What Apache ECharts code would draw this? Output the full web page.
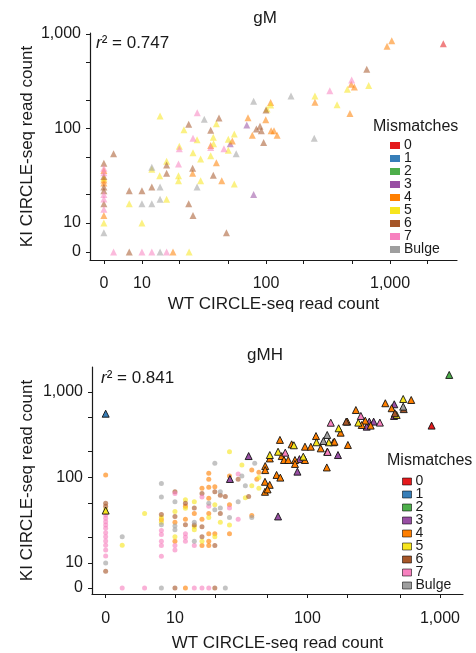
<!DOCTYPE html>
<html>
<head>
<meta charset="utf-8">
<script src="https://cdn.jsdelivr.net/npm/echarts@6/dist/echarts.min.js"></script>
<style>
  html, body { margin: 0; background: #fff; }
  #chart { width: 476px; height: 653px; }
</style>
</head>
<body>
<div id="chart"></div>
<script>
// mismatch categories (Set1-like palette)
const categories = ['0', '1', '2', '3', '4', '5', '6', '7', 'Bulge'];
const catColors = ['#e41a1c', '#377eb8', '#4daf4a', '#984ea3', '#ff7f00', '#f7e51e', '#a65628', '#f781bf', '#9e9e9e'];

// axis ticks (read counts); 0 is drawn at a fixed offset on the log axis
const majorTicks = [0, 10, 100, 1000];
const minorTicks = [20, 50, 200, 500, 2000];

// ---- gM panel: [WT read count, KI read count]
const gM0 = [[2690, 789]];
const gM1 = [];
const gM2 = [];
const gM3 = [[51.5, 69], [70, 109], [79.5, 20]];
const gM4 = [[35.8, 66], [39.8, 43.5], [53.5, 74], [71.6, 130], [109, 189], [99.5, 124], [77.6, 85],
  [110, 95], [116, 95], [123, 85], [25.6, 33.6], [44, 28], [248, 190], [1033, 849], [946, 741],
  [487, 294], [516, 275], [475, 144], [0, 36], [0, 28.5], [0, 26.5], [0, 12], [17.8, 0]];
const gM5 = [[14, 136], [21.8, 97], [39.8, 112], [27.8, 76], [37.6, 81], [37.8, 69], [20, 65],
  [25.8, 55.5], [29.7, 47.5], [35.8, 51.5], [49.7, 59], [49.7, 77], [55.5, 87.5], [109, 177],
  [102, 161], [15.8, 45], [12, 37], [55.5, 25.8], [29.7, 28], [19.7, 31.7], [19.7, 28], [13.9, 31.7],
  [7.9, 16], [15.8, 17.8], [10, 10], [248, 221], [453, 260], [673, 286], [374, 179],
  [0, 10], [0, 30], [24, 0]];
const gM6 = [[23.8, 111], [41.8, 129], [35.8, 96], [100, 157], [83.6, 99], [89.5, 106], [91.7, 95],
  [95.7, 71], [48, 7.9], [15.8, 41], [25.6, 38], [37.6, 32], [15.8, 33.6], [12, 24], [10, 22],
  [7.9, 22], [23.8, 16], [25.8, 12], [5.9, 54], [649, 423],
  [0, 43], [0, 31], [0, 24], [0, 22], [0, 16], [7.9, 0]];
const gM7 = [[27.9, 147], [25.8, 79], [35.8, 63], [20, 61], [45.8, 61], [19.7, 42], [327, 251],
  [491, 326], [0, 38], [0, 34], [0, 20], [0, 18], [0, 14], [5.9, 0], [10, 0], [12, 0], [15.8, 0]];
const gMBulge = [[31.8, 125], [57.5, 54], [79.5, 194], [12, 39], [27.8, 24], [14, 24], [10, 16],
  [12, 16], [14, 17.8], [245, 79], [159, 221], [0, 7.9], [14, 0]];

// ---- gMH panel, dots
const gMHdot0 = [];
const gMHdot1 = [];
const gMHdot2 = [];
const gMHdot3 = [];
const gMHdot4 = [[0, 107], [7.9, 32], [10, 30], [10, 18], [12, 46], [12, 32.4], [14, 38], [16, 75],
  [16, 32.4], [16, 16], [18, 112], [18, 95], [18, 77], [18, 57], [18, 38], [18, 22], [18, 18], [18, 16],
  [20, 78], [20, 22], [25.8, 104], [25.8, 48], [25.8, 22], [38, 122], [38, 36], [41.5, 95], [43, 115],
  [12, 0]];
const gMHdot5 = [[0, 42.5], [4, 16.1], [5.9, 38], [7.9, 34], [7.9, 30], [10, 40], [10, 20.3], [12, 55],
  [12, 43.6], [14, 52], [14, 26.5], [14, 24.5], [16, 18], [18, 34], [20, 48], [20, 20.3], [22, 30],
  [25.8, 200], [25.8, 27.8], [32, 140], [34, 58], [38, 80], [43, 100], [43, 75]];
const gMHdot6 = [[0, 50], [0, 46], [0, 8], [7.9, 37], [10, 68], [10, 35], [12, 50], [12, 28], [14, 44],
  [14, 27.8], [16, 65], [16, 26.5], [16, 20.3], [20, 68], [20, 16], [22, 62], [22, 38], [24, 60],
  [30, 95], [36, 60], [10, 0], [20, 0]];
const gMHdot7 = [[0, 38.7], [0, 36.4], [0, 33.3], [0, 30.4], [0, 27.8], [0, 25.4], [0, 22.6], [0, 20.3],
  [0, 18.1], [0, 16.1], [0, 14.2], [0, 12.1], [7.9, 24], [7.9, 21.5], [7.9, 18], [7.9, 16], [7.9, 12],
  [10, 65], [10, 16], [10, 14.2], [12, 22], [12, 20], [12, 18], [14, 16], [16, 59], [18, 46],
  [25.8, 44], [30, 110], [30, 32.4], [4, 0], [5.9, 0], [14, 0], [16, 0], [18, 0]];
const gMHdotBulge = [[0, 10], [4, 20.3], [7.9, 85], [7.9, 59], [7.9, 28], [10, 52], [10, 27], [10, 24.5],
  [14, 30], [14, 18], [18, 50], [20, 147], [20, 42], [22, 68], [22, 44], [25.8, 34], [30, 52], [32, 104],
  [34, 80], [38, 34], [40, 147], [7.9, 0], [24, 0]];

// ---- gMH panel, outlined triangles
const gMHtri0 = [[865, 404]];
const gMHtri1 = [[0, 557]];
const gMHtri2 = [[1175, 1582]];
const gMHtri3 = [[36, 178], [26, 96], [60, 35], [84, 117], [87, 164], [452, 718], [450, 524], [293, 450],
  [316, 450], [280, 393], [170, 183]];
const gMHtri4 = [[48, 136], [48, 122], [52, 167], [62, 275], [64, 178], [66.5, 160], [71.6, 160], [58.5, 107],
  [62.4, 99.6], [47.8, 89], [51.9, 82], [47.8, 68], [50, 72.5], [76, 244], [80.5, 160], [80.5, 144],
  [95.8, 229], [95.8, 160], [106, 229], [116, 305], [126, 219], [141, 200], [140, 131], [157, 258],
  [160, 262], [202, 240], [178, 334], [387, 738], [432, 645], [607, 806], [232, 615], [200, 450],
  [273, 462], [257, 411], [300, 404]];
const gMHtri5 = [[52, 183], [60, 200], [93, 175], [117, 258], [145, 258], [528, 828], [471, 538],
  [242, 438], [172, 376], [79, 238], [0, 41]];
const gMHtri6 = [[196, 450], [457, 563], [533, 630]];
const gMHtri7 = [[68, 195], [150, 437], [253, 524], [352, 438], [142, 199]];
const gMHtriBulge = [[132, 267], [141, 314], [528, 673]];

const gMSets = [gM0, gM1, gM2, gM3, gM4, gM5, gM6, gM7, gMBulge];
const gMHDotSets = [gMHdot0, gMHdot1, gMHdot2, gMHdot3, gMHdot4, gMHdot5, gMHdot6, gMHdot7, gMHdotBulge];
const gMHTriSets = [gMHtri0, gMHtri1, gMHtri2, gMHtri3, gMHtri4, gMHtri5, gMHtri6, gMHtri7, gMHtriBulge];

// where a count of 0 sits on each log axis
const zeroAt = { gMx: 4.93, gMy: 4.93, gMHx: 3.0, gMHy: 5.1 };

const FONT = '"Liberation Sans", Arial, Helvetica, sans-serif';
const INK = '#1a1a1a';
const lg = (v, zero) => Math.log10(v > 0 ? v : zero);

const chart = echarts.init(document.getElementById('chart'));

function makeAxis(gridIndex, min, max, zero, name, nameGap, labelMargin) {
  return {
    type: 'value',
    gridIndex,
    min, max,
    name,
    nameLocation: 'middle',
    nameGap,
    nameMoveOverlap: false,
    nameTextStyle: { fontFamily: FONT, fontSize: 17, color: INK },
    axisLine: { show: true, onZero: false, lineStyle: { color: INK, width: 1.2 } },
    axisTick: {
      show: true, length: 4, lineStyle: { color: INK, width: 1 },
      customValues: majorTicks.concat(minorTicks).map(v => lg(v, zero))
    },
    axisLabel: {
      customValues: majorTicks.map(v => lg(v, zero)),
      formatter: v => (v < 0.9 ? '0' : Math.round(Math.pow(10, v)).toLocaleString('en-US')),
      fontFamily: FONT, fontSize: 16, color: INK, margin: labelMargin
    },
    splitLine: { show: false }
  };
}

const series = [];
categories.forEach((cat, i) => {
  series.push({
    type: 'scatter', name: 'gM ' + cat, xAxisIndex: 0, yAxisIndex: 0,
    symbol: 'triangle', symbolSize: 7,
    itemStyle: { color: catColors[i], opacity: 0.55 },
    data: gMSets[i].map(([w, k]) => [lg(w, zeroAt.gMx), lg(k, zeroAt.gMy)])
  });
});
categories.forEach((cat, i) => {
  series.push({
    type: 'scatter', name: 'gMH ' + cat, xAxisIndex: 1, yAxisIndex: 1,
    symbol: 'circle', symbolSize: 5,
    itemStyle: { color: catColors[i], opacity: 0.62 },
    data: gMHDotSets[i].map(([w, k]) => [lg(w, zeroAt.gMHx), lg(k, zeroAt.gMHy)])
  });
});
categories.forEach((cat, i) => {
  series.push({
    type: 'scatter', name: 'gMH ' + cat, xAxisIndex: 1, yAxisIndex: 1, z: 3,
    symbol: 'triangle', symbolSize: 7,
    itemStyle: { color: catColors[i], opacity: 1, borderColor: '#111', borderWidth: 0.9 },
    data: gMHTriSets[i].map(([w, k]) => [lg(w, zeroAt.gMHx), lg(k, zeroAt.gMHy)])
  });
});

function makeLegend(prefix, left, top, size, bordered) {
  return {
    orient: 'vertical', left, top, padding: 0, itemGap: -1,
    itemWidth: size[0], itemHeight: size[1],
    selectedMode: false,
    formatter: n => n.split(' ')[1],
    textStyle: { fontFamily: FONT, fontSize: 14, color: INK, padding: [0, 0, 0, -1] },
    data: categories.map((c, i) => ({
      name: prefix + ' ' + c, icon: 'rect',
      itemStyle: {
        color: catColors[i], opacity: 1,
        borderColor: bordered ? 'rgba(0,0,0,0.55)' : catColors[i], borderWidth: bordered ? 1 : 0
      }
    }))
  };
}

function label(text, x, y, size, align) {
  return {
    type: 'text', x, y,
    style: { text, fontFamily: FONT, fontSize: size, fill: INK, align: align || 'left', verticalAlign: 'middle' }
  };
}

function r2(value, x, y) {
  return {
    type: 'text', x, y,
    style: {
      text: '{i|r}{n|² = ' + value + '}',
      verticalAlign: 'middle',
      rich: {
        i: { fontFamily: FONT, fontSize: 17, fontStyle: 'italic', fill: INK },
        n: { fontFamily: FONT, fontSize: 17, fill: INK }
      }
    }
  };
}

chart.setOption({
  animation: false,
  backgroundColor: '#fff',
  grid: [
    { left: 90, top: 33, width: 367, height: 227 },
    { left: 92, top: 367, width: 371, height: 227 }
  ],
  xAxis: [
    makeAxis(0, 0.581, 3.54, zeroAt.gMx, 'WT CIRCLE-seq read count', 36, 16),
    makeAxis(1, 0.374, 3.174, zeroAt.gMHx, 'WT CIRCLE-seq read count', 41, 17)
  ],
  yAxis: [
    makeAxis(0, 0.6085, 3.011, zeroAt.gMy, 'KI CIRCLE-seq read count', 54, 9),
    makeAxis(1, 0.637, 3.292, zeroAt.gMHy, 'KI CIRCLE-seq read count', 56, 9)
  ],
  legend: [
    makeLegend('gM', 390, 138.5, [10, 7], false),
    makeLegend('gMH', 402, 474.5, [9, 7], true)
  ],
  graphic: [
    label('gM', 265, 18, 17, 'center'),
    label('gMH', 265, 355, 17, 'center'),
    r2('0.747', 96, 43),
    r2('0.841', 101, 378),
    label('Mismatches', 373, 127, 16),
    label('Mismatches', 387, 461, 16)
  ],
  series
});
</script>
</body>
</html>
